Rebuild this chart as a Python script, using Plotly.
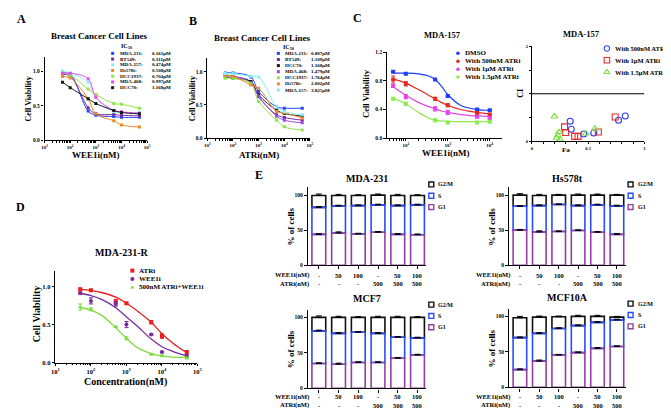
import plotly.graph_objects as go

W, H = 671, 408
FONT = "Liberation Serif"


def fx(x):
    return x / W


def fy(y):
    return 1 - y / H


# ---------------- DATA ----------------
conc = [50, 100, 500, 1000, 5000, 10000, 50000]
log_ticks = [10, 100, 1000, 10000, 100000]
log_ticktext = ["10<sup>1</sup>", "10<sup>2</sup>", "10<sup>3</sup>", "10<sup>4</sup>", "10<sup>5</sup>"]

# Panel A (WEE1i)
a_names = ["MDA-231:", "BT549:", "MDA-157:", "Hs578t:", "HCC1937:", "MDA-468:", "HCC70:"]
a_ic50 = ["0.161μM", "0.311μM", "0.474μM", "0.508μM", "0.704μM", "0.997μM", "1.168μM"]
a_mda231 = [0.97, 0.96, 0.42, 0.36, 0.34, 0.33, 0.33]
a_bt549 = [0.95, 0.93, 0.47, 0.38, 0.37, 0.36, 0.35]
a_mda157 = [1.00, 0.97, 0.84, 0.62, 0.41, 0.40, 0.40]
a_hs578t = [0.92, 0.90, 0.60, 0.38, 0.28, 0.22, 0.19]
a_hcc1937 = [0.97, 0.94, 0.74, 0.66, 0.53, 0.52, 0.46]
a_mda468 = [0.97, 0.97, 0.89, 0.62, 0.43, 0.41, 0.39]
a_hcc70 = [0.84, 0.76, 0.60, 0.53, 0.43, 0.40, 0.38]
a_values = [a_mda231, a_bt549, a_mda157, a_hs578t, a_hcc1937, a_mda468, a_hcc70]

# Panel B (ATRi)
b_names = ["MDA-231:", "BT549:", "HCC70:", "MDA-468:", "HCC1937:", "Hs578t:", "MDA-157:"]
b_ic50 = ["0.887μM", "1.109μM", "1.168μM", "1.479μM", "1.764μM", "2.002μM", "3.825μM"]
b_mda231 = [0.98, 0.98, 0.92, 0.70, 0.47, 0.45, 0.45]
b_bt549 = [0.95, 0.93, 0.85, 0.62, 0.35, 0.31, 0.27]
b_hcc70 = [0.92, 0.90, 0.85, 0.65, 0.42, 0.37, 0.33]
b_mda468 = [0.93, 0.93, 0.83, 0.63, 0.33, 0.27, 0.23]
b_hcc1937 = [0.90, 0.90, 0.82, 0.55, 0.27, 0.17, 0.12]
b_hs578t = [0.95, 0.93, 0.80, 0.75, 0.40, 0.38, 0.30]
b_mda157 = [0.97, 0.97, 0.93, 0.92, 0.47, 0.40, 0.35]
b_values = [b_mda231, b_bt549, b_hcc70, b_mda468, b_hcc1937, b_hs578t, b_mda157]

# Panel C (MDA-157, WEE1i with ATRi)
c_conc = [50, 100, 500, 1000, 5000, 10000]
c_names = ["DMSO", "With 500nM ATRi", "With 1μM ATRi", "With 1.5μM ATRi"]
c_dmso = [0.93, 0.90, 0.82, 0.59, 0.40, 0.39]
c_atr500 = [0.82, 0.76, 0.55, 0.46, 0.35, 0.33]
c_atr1000 = [0.73, 0.58, 0.41, 0.36, 0.30, 0.28]
c_atr1500 = [0.55, 0.48, 0.25, 0.22, 0.22, 0.23]
c_values = [c_dmso, c_atr500, c_atr1000, c_atr1500]
c_err_dmso = [0.01, 0.01, 0.01, 0.01, 0.01, 0.01]
c_err_atr500 = [0.05, 0.03, 0.02, 0.02, 0.01, 0.01]
c_err_atr1000 = [0.02, 0.03, 0.03, 0.03, 0.01, 0.01]
c_err_atr1500 = [0.01, 0.02, 0.02, 0.01, 0.01, 0.01]
c_errs = [c_err_dmso, c_err_atr500, c_err_atr1000, c_err_atr1500]
c_fit_conc = [50, 100, 200, 350, 500, 700, 1000, 2000, 5000, 10000]
c_fit_dmso = [0.91, 0.91, 0.90, 0.87, 0.82, 0.73, 0.61, 0.46, 0.40, 0.39]
c_fit_atr500 = [0.83, 0.77, 0.68, 0.60, 0.55, 0.50, 0.46, 0.40, 0.36, 0.34]
c_fit_atr1000 = [0.72, 0.60, 0.50, 0.44, 0.41, 0.38, 0.36, 0.33, 0.31, 0.30]
c_fit_atr1500 = [0.56, 0.48, 0.36, 0.28, 0.25, 0.24, 0.235, 0.23, 0.23, 0.23]
c_fits = [c_fit_dmso, c_fit_atr500, c_fit_atr1000, c_fit_atr1500]

# Panel C right (combination index)
ci_names = ["With 500nM ATRi", "With 1μM ATRi", "With 1.5μM ATRi"]
ci_fa_500 = [0.34, 0.35, 0.46, 0.55, 0.77, 0.83]
ci_ci_500 = [0.42, 0.25, 0.15, 0.17, 0.44, 0.53]
ci_fa_1000 = [0.29, 0.30, 0.38, 0.41, 0.59, 0.74]
ci_ci_1000 = [0.30, 0.18, 0.10, 0.10, 0.19, 0.51]
ci_fa_1500 = [0.20, 0.22, 0.24, 0.25, 0.23, 0.48, 0.56]
ci_ci_1500 = [0.52, 0.07, 0.19, 0.03, 0.12, 0.16, 0.26]

# Panel D (MDA-231-R)
d_names = ["ATRi", "WEE1i", "500nM ATRi+WEE1i"]
d_atri = [0.96, 0.95, 0.80, 0.78, 0.53, 0.35, 0.14]
d_wee1i = [0.91, 0.81, 0.77, 0.50, 0.37, 0.14, 0.09]
d_combo = [0.73, 0.70, 0.47, 0.32, 0.11, 0.09, 0.06]
d_values = [d_atri, d_wee1i, d_combo]
d_err_atri = [0.02, 0.01, 0.03, 0.01, 0.02, 0.03, 0.02]
d_err_wee1i = [0.01, 0.04, 0.03, 0.04, 0.01, 0.01, 0.02]
d_err_combo = [0.04, 0.02, 0.01, 0.02, 0.01, 0.01, 0.01]
d_errs = [d_err_atri, d_err_wee1i, d_err_combo]
d_fit_conc = [50, 100, 200, 500, 1000, 2000, 5000, 10000, 20000, 50000]
d_fit_atri = [0.96, 0.945, 0.92, 0.86, 0.78, 0.68, 0.53, 0.38, 0.26, 0.13]
d_fit_wee1i = [0.91, 0.88, 0.83, 0.72, 0.60, 0.48, 0.31, 0.21, 0.15, 0.09]
d_fit_combo = [0.72, 0.69, 0.62, 0.46, 0.32, 0.20, 0.12, 0.09, 0.075, 0.07]
d_fits = [d_fit_atri, d_fit_wee1i, d_fit_combo]

# Panel E (cell cycle, % of cells per phase)
e_pos = [0, 1, 2, 3, 4, 5]
e_wee1 = ["-", "50", "100", "-", "50", "100"]
e_atr = ["-", "-", "-", "500", "500", "500"]
e_phases = ["G2/M", "S", "G1"]
e_mda231_g1 = [44, 46, 44.5, 47, 44, 43.5]
e_mda231_s = [38.5, 38.5, 40.5, 39, 41, 42.5]
e_mda231_g2m = [17, 15, 14.5, 14, 14.5, 13.5]
e_hs578t_g1 = [50, 47.5, 48, 49.5, 47, 44]
e_hs578t_s = [34, 37.5, 38.5, 35.5, 39, 40.5]
e_hs578t_g2m = [16, 14.5, 13.5, 15, 14, 15.5]
e_mcf7_g1 = [35, 34, 36.5, 36.5, 42.5, 47]
e_mcf7_s = [46, 43.5, 42.5, 41, 29.5, 24]
e_mcf7_g2m = [19, 22.5, 21, 22.5, 28, 29]
e_mcf10a_g1 = [25, 37, 45.5, 49, 55, 57.5]
e_mcf10a_s = [45, 39, 37.5, 38, 36.5, 37.5]
e_mcf10a_g2m = [28, 23, 16.5, 13, 8.5, 4]
e_err_g1 = [1, 1.5, 1, 1, 1, 1]
e_err_s = [1, 1, 1, 1, 1, 1]
e_err_g2m = [2, 1.5, 1, 1.5, 1.5, 1]

# ---------------- STYLES ----------------
a_colors = ["#2244FF", "#7B2AA6", "#7FF2FF", "#F08A24", "#8EE645", "#F046F0", "#1A1A1A"]
b_colors = ["#2244FF", "#7B2AA6", "#1A1A1A", "#A34BE0", "#8EE645", "#F08A24", "#7FF2FF"]
c_colors = ["#1E3CFF", "#E8281E", "#E046E8", "#8EEA50"]
ci_colors = ["#2A3CFF", "#E82828", "#7EE040"]
ci_symbols = ["circle-open", "square-open", "triangle-up-open"]
d_colors = ["#E82020", "#7A2AA0", "#7CDC3C"]
d_symbols = ["square", "circle", "triangle-up"]
e_colors = {"G1": "#9040A0", "S": "#2A4BFF", "G2/M": "#111111"}

fig = go.Figure()
annotations = []
shapes = []


def tfont(size, color="black"):
    return dict(family=FONT, size=size, color=color, weight="bold")


def ann(text, x, y, size, xanchor="center", yanchor="middle", angle=0, color="black"):
    annotations.append(dict(
        text=text, x=fx(x), y=fy(y), xref="paper", yref="paper",
        xanchor=xanchor, yanchor=yanchor, textangle=angle, showarrow=False,
        font=tfont(size, color),
    ))


def axname(n, kind):
    return f"{kind}axis" + ("" if n == 1 else str(n))


def ref(n, kind):
    return kind + ("" if n == 1 else str(n))


base_axis = dict(showline=True, linecolor="black", linewidth=1.3, ticks="outside", ticklen=2.5,
                 tickwidth=1.1, tickcolor="black", showgrid=False, zeroline=False,
                 tickfont=tfont(5.5))

layout_axes = {}


def make_axes(n, x0, x1, yb, yt, xopts, yopts):
    xa = dict(base_axis)
    xa.update(domain=[fx(x0), fx(x1)], anchor=ref(n, "y"))
    xa.update(xopts)
    ya = dict(base_axis)
    ya.update(domain=[fy(yb), fy(yt)], anchor=ref(n, "x"))
    ya.update(yopts)
    layout_axes[axname(n, "x")] = xa
    layout_axes[axname(n, "y")] = ya


log_x = dict(type="log", tickvals=log_ticks, ticktext=log_ticktext, range=[1, 5], ticklen=2,
             minor=dict(ticks="outside", ticklen=1.5, tickcolor="black", dtick="D1"))
via_y = dict(range=[0, 1.2], tickvals=[0, 0.5, 1.0], ticktext=["0.0", "0.5", "1.0"])

# ---- Panel A ----
make_axes(1, 33, 137, 131, 47, dict(log_x, tickfont=tfont(5)), via_y)
for name, vals, col in zip(a_names, a_values, a_colors):
    fig.add_trace(go.Scatter(x=conc, y=vals, mode="lines+markers", line=dict(color=col, width=1, shape="spline"),
                             marker=dict(color=col, size=3, symbol="square"), name=name, showlegend=False,
                             xaxis="x", yaxis="y"))
ann("Breast Cancer Cell Lines", 88, 25, 9)
ann("Cell Viability", 17, 89, 8, angle=-90)
ann("WEE1i(nM)", 85, 146, 9)
ann("A", 10, 8, 12)
ann("IC<sub>50</sub>", 108, 36, 6, xanchor="left")

# ---- Panel B ----
make_axes(2, 198, 302, 129, 48, dict(log_x, tickfont=tfont(5)), via_y)
for name, vals, col in zip(b_names, b_values, b_colors):
    fig.add_trace(go.Scatter(x=conc, y=vals, mode="lines+markers", line=dict(color=col, width=1, shape="spline"),
                             marker=dict(color=col, size=3, symbol="square"), name=name, showlegend=False,
                             xaxis="x2", yaxis="y2"))
ann("Breast Cancer Cell Lines", 253, 27, 9)
ann("Cell Viability", 183, 89, 8, angle=-90)
ann("ATRi(nM)", 250, 146, 9)
ann("B", 183, 10, 12)
ann("IC<sub>50</sub>", 273, 37, 6, xanchor="left")

# ---- Panel C ----
c_x = dict(type="log", tickvals=[100, 1000, 10000], ticktext=log_ticktext[1:4], range=[1.55, 4.3], ticklen=2,
           tickfont=tfont(5), minor=dict(ticks="outside", ticklen=1.5, tickcolor="black", dtick="D1"))
c_y = dict(range=[0, 1.2], tickvals=[0, 0.4, 0.8, 1.2], ticktext=["0.0", "0.4", "0.8", "1.2"])
make_axes(3, 380, 497, 129, 42, c_x, c_y)
for name, vals, errs, fit, col in zip(c_names, c_values, c_errs, c_fits, c_colors):
    fig.add_trace(go.Scatter(x=c_fit_conc, y=fit, mode="lines", line=dict(color=col, width=1.2, shape="spline"),
                             showlegend=False, xaxis="x3", yaxis="y3", hoverinfo="skip"))
    fig.add_trace(go.Scatter(x=c_conc, y=vals, mode="markers", marker=dict(color=col, size=4, symbol="square"),
                             error_y=dict(type="data", array=errs, color=col, thickness=1, width=2),
                             name=name, showlegend=False, xaxis="x3", yaxis="y3"))
ann("MDA-157", 436, 24, 8.5)
ann("Cell Viability", 359, 84, 8.5, angle=-90)
ann("WEE1i(nM)", 440, 144, 9)
ann("C", 350, 7, 12)

# ---- Panel C right: CI ----
ci_x = dict(range=[0, 1], tickvals=[0, 0.5, 1], ticktext=["0", "0.5", "1"], ticklen=2,
            tickfont=tfont(4.5), minor=dict(ticks="outside", ticklen=1.5, tickcolor="black", dtick=0.1))
ci_y = dict(range=[0, 2], tickvals=[0, 1, 2], ticktext=["0", "", "2"], ticklen=2,
            tickfont=tfont(4.5), minor=dict(ticks="outside", ticklen=1.5, tickcolor="black", dtick=0.5))
make_axes(4, 527, 641, 132, 36, ci_x, ci_y)
shapes.append(dict(type="line", xref="x4", yref="y4", x0=0, x1=1, y0=1, y1=1,
                   line=dict(color="black", width=1.2)))
for name, fa, ci, col, sym in zip(ci_names, [ci_fa_500, ci_fa_1000, ci_fa_1500],
                                  [ci_ci_500, ci_ci_1000, ci_ci_1500], ci_colors, ci_symbols):
    fig.add_trace(go.Scatter(x=fa, y=ci, mode="markers", marker=dict(color=col, size=6, symbol=sym,
                                                                    line=dict(width=1.1, color=col)),
                             name=name, showlegend=False, xaxis="x4", yaxis="y4"))
ann("MDA-157", 577, 23, 8.5)
ann("CI", 516, 84, 8, angle=-90)
ann("Fa", 562, 141, 7)

# ---- Panel D ----
make_axes(5, 44, 188, 357, 264, dict(log_x, tickfont=tfont(6.5)), dict(via_y, tickfont=tfont(6.5)))
for name, vals, errs, fit, col, sym in zip(d_names, d_values, d_errs, d_fits, d_colors, d_symbols):
    fig.add_trace(go.Scatter(x=d_fit_conc, y=fit, mode="lines", line=dict(color=col, width=1.3, shape="spline"),
                             showlegend=False, xaxis="x5", yaxis="y5", hoverinfo="skip"))
    fig.add_trace(go.Scatter(x=conc, y=vals, mode="markers", marker=dict(color=col, size=4, symbol=sym),
                             error_y=dict(type="data", array=errs, color=col, thickness=1, width=2),
                             name=name, showlegend=False, xaxis="x5", yaxis="y5"))
ann("MDA-231-R", 111, 245, 10)
ann("Cell Viability", 25, 308, 10, angle=-90)
ann("Concentration(nM)", 115, 377, 10)
ann("D", 9, 199, 12)

# ---- Panel E ----
e_x = dict(range=[-0.55, 5.45], tickvals=e_pos, showticklabels=False, ticklen=3)
e_y = dict(range=[0, 111], tickvals=[0, 50, 100], ticktext=["0", "50", "100"], ticklen=3)
e_panels = [
    (6, "MDA-231", 300, 420, 258, 179, e_mda231_g1, e_mda231_s, e_mda231_g2m, 268, 277, 170),
    (7, "Hs578t", 504, 622, 258, 179, e_hs578t_g1, e_hs578t_s, e_hs578t_g2m, 268, 277, 170),
    (8, "MCF7", 300, 420, 383, 303, e_mcf7_g1, e_mcf7_s, e_mcf7_g2m, 391.5, 400, 292),
    (9, "MCF10A", 504, 622, 382, 302, e_mcf10a_g1, e_mcf10a_s, e_mcf10a_g2m, 391.5, 400, 291),
]
for n, title, x0, x1, yb, yt, g1, s, g2m, row1, row2, ty in e_panels:
    make_axes(n, x0, x1, yb, yt, e_x, e_y)
    base_s = list(g1)
    base_g2m = [a + b for a, b in zip(g1, s)]
    segs = [("G2/M", g2m, base_g2m, e_err_g2m), ("S", s, base_s, e_err_s), ("G1", g1, [0] * 6, e_err_g1)]
    for phase, vals, base, err in segs:
        fig.add_trace(go.Bar(x=e_pos, y=vals, base=base, width=0.7, name=phase, showlegend=False,
                             marker=dict(color="rgba(255,255,255,0)", line=dict(color=e_colors[phase], width=1.6)),
                             error_y=dict(type="data", array=err, arrayminus=[0] * 6, color="black",
                                          thickness=1, width=3),
                             xaxis=ref(n, "x"), yaxis=ref(n, "y")))
    ann(title, (x0 + x1) / 2, ty, 10)
    ann("% of cells", x0 - 17, (yb + yt) / 2, 9, angle=-90)
    ann("WEE1i(nM)", x0 + 3, row1, 6.5, xanchor="right")
    ann("ATRi(nM)", x0 + 3, row2, 6.5, xanchor="right")
    for i, (w, a) in enumerate(zip(e_wee1, e_atr)):
        annotations.append(dict(text=w, x=e_pos[i], y=fy(row1), xref=ref(n, "x"), yref="paper",
                                showarrow=False, xanchor="center", yanchor="middle", font=tfont(6.5)))
        annotations.append(dict(text=a, x=e_pos[i], y=fy(row2), xref=ref(n, "x"), yref="paper",
                                showarrow=False, xanchor="center", yanchor="middle", font=tfont(6.5)))
    # legend boxes
    lx = x1 + 5
    ly0 = ty + 6
    for k, phase in enumerate(e_phases):
        yy = ly0 + k * 11.5
        shapes.append(dict(type="rect", xref="paper", yref="paper", x0=fx(lx - 2.5), x1=fx(lx + 2.5),
                           y0=fy(yy + 2.5), y1=fy(yy - 2.5), line=dict(color=e_colors[phase], width=1.4)))
        ann(phase, lx + 5, yy, 6, xanchor="left")
ann("E", 250, 166, 12)

# ---------------- LEGEND KEYS (overlay axis in pixel space) ----------------
layout_axes["xaxis10"] = dict(domain=[0, 1], range=[0, W], visible=False, anchor="y10", fixedrange=True)
layout_axes["yaxis10"] = dict(domain=[0, 1], range=[H, 0], visible=False, anchor="x10", fixedrange=True)

# A legend
a_leg_x, a_leg_y0, a_leg_dy = 102, 43, 5.8
fig.add_trace(go.Scatter(x=[a_leg_x] * len(a_names), y=[a_leg_y0 + i * a_leg_dy for i in range(len(a_names))],
                         mode="markers", marker=dict(color=a_colors, size=3, symbol="square"),
                         showlegend=False, xaxis="x10", yaxis="y10", hoverinfo="skip"))
for i, (nm, v) in enumerate(zip(a_names, a_ic50)):
    ann(nm, a_leg_x + 5, a_leg_y0 + i * a_leg_dy, 5, xanchor="left")
    ann(v, a_leg_x + 38, a_leg_y0 + i * a_leg_dy, 5, xanchor="left")

# B legend
b_leg_x, b_leg_y0, b_leg_dy = 270, 43, 6.2
fig.add_trace(go.Scatter(x=[b_leg_x] * len(b_names), y=[b_leg_y0 + i * b_leg_dy for i in range(len(b_names))],
                         mode="markers", marker=dict(color=b_colors, size=3, symbol="square"),
                         showlegend=False, xaxis="x10", yaxis="y10", hoverinfo="skip"))
for i, (nm, v) in enumerate(zip(b_names, b_ic50)):
    ann(nm, b_leg_x + 5, b_leg_y0 + i * b_leg_dy, 5, xanchor="left")
    ann(v, b_leg_x + 31, b_leg_y0 + i * b_leg_dy, 5, xanchor="left")

# C legend
c_leg_x, c_leg_y0, c_leg_dy = 452, 43, 8
fig.add_trace(go.Scatter(x=[c_leg_x] * len(c_names), y=[c_leg_y0 + i * c_leg_dy for i in range(len(c_names))],
                         mode="markers", marker=dict(color=c_colors, size=3.5, symbol="circle"),
                         showlegend=False, xaxis="x10", yaxis="y10", hoverinfo="skip"))
for i, nm in enumerate(c_names):
    ann(nm, c_leg_x + 5, c_leg_y0 + i * c_leg_dy, 7, xanchor="left")

# CI legend
ci_leg_x, ci_leg_y0, ci_leg_dy = 603, 38, 12
for i, (nm, col, sym) in enumerate(zip(ci_names, ci_colors, ci_symbols)):
    fig.add_trace(go.Scatter(x=[ci_leg_x], y=[ci_leg_y0 + i * ci_leg_dy], mode="markers",
                             marker=dict(color=col, size=5.5, symbol=sym, line=dict(width=1.1, color=col)),
                             showlegend=False, xaxis="x10", yaxis="y10", hoverinfo="skip"))
    ann(nm, ci_leg_x + 6, ci_leg_y0 + i * ci_leg_dy, 6.5, xanchor="left")

# D legend
d_leg_x, d_leg_y0, d_leg_dy = 122, 263.5, 8.5
for i, (nm, col, sym) in enumerate(zip(d_names, d_colors, d_symbols)):
    fig.add_trace(go.Scatter(x=[d_leg_x], y=[d_leg_y0 + i * d_leg_dy], mode="markers",
                             marker=dict(color=col, size=4, symbol=sym),
                             showlegend=False, xaxis="x10", yaxis="y10", hoverinfo="skip"))
    ann(nm, d_leg_x + 5, d_leg_y0 + i * d_leg_dy, 7, xanchor="left")

fig.update_layout(
    width=W, height=H, margin=dict(l=0, r=0, t=0, b=0),
    paper_bgcolor="white", plot_bgcolor="rgba(0,0,0,0)",
    barmode="overlay", showlegend=False,
    annotations=annotations, shapes=shapes,
    **layout_axes,
)

fig.write_html("out.html")
